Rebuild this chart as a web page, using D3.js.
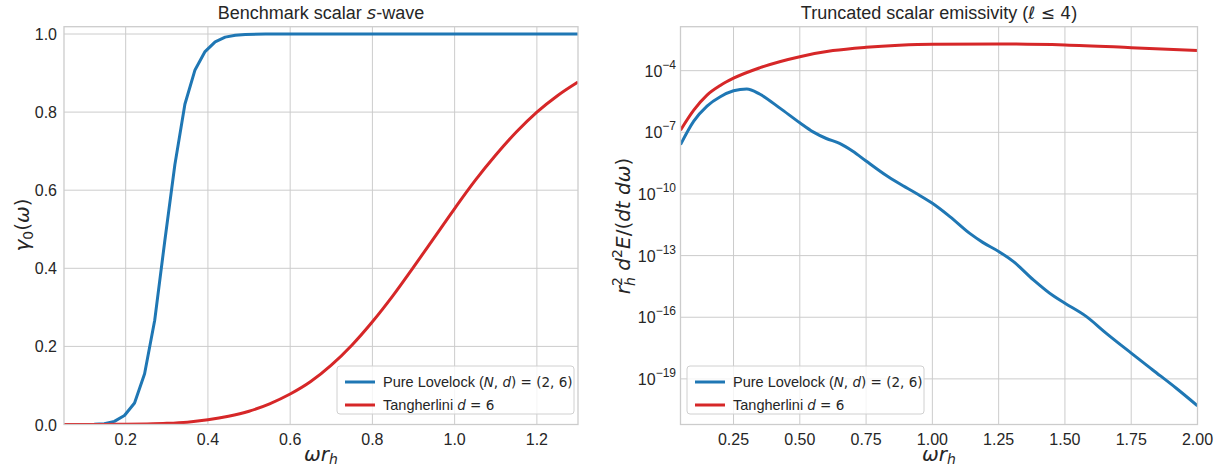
<!DOCTYPE html>
<html>
<head>
<meta charset="utf-8">
<script src="https://cdn.jsdelivr.net/npm/d3@7"></script>
<style>
  body { margin: 0; background: #fff; }
  svg { display: block; }
  text { fill: #262626; font-family: "Liberation Sans", Arial, sans-serif; }
</style>
</head>
<body>
<div id="chart_area"></div>
<script>
// left panel: greybody factor of the s-wave
const leftBlueX = [0.05, 0.0745, 0.099, 0.1235, 0.148, 0.1725, 0.197, 0.2216, 0.246, 0.2706, 0.2951,
  0.3196, 0.344, 0.3686, 0.393, 0.4176, 0.442, 0.4667, 0.491, 0.54, 0.6, 0.8, 1.0, 1.2, 1.3];
const leftBlueY = [0, 0, 0.0002, 0.0007, 0.002, 0.008, 0.023, 0.055, 0.13, 0.267, 0.47,
  0.665, 0.82, 0.908, 0.955, 0.98, 0.992, 0.997, 0.999, 1.0, 1.0, 1.0, 1.0, 1.0, 1.0];
const leftRedX = [0.05, 0.1, 0.15, 0.2, 0.25, 0.3, 0.35, 0.4, 0.45, 0.5, 0.55, 0.6, 0.65, 0.7,
  0.75, 0.8, 0.85, 0.9, 0.95, 1.0, 1.05, 1.1, 1.15, 1.2, 1.25, 1.3];
const leftRedY = [0, 0.0001, 0.0003, 0.0007, 0.0015, 0.003, 0.006, 0.012, 0.021, 0.034, 0.053, 0.078,
  0.11, 0.152, 0.203, 0.263, 0.33, 0.403, 0.478, 0.553, 0.625, 0.69, 0.749, 0.8, 0.842, 0.877];
const leftXTicks = [0.2, 0.4, 0.6, 0.8, 1.0, 1.2];
const leftYTicks = [0.0, 0.2, 0.4, 0.6, 0.8, 1.0];

// right panel: emissivity (log scale)
const rightBlueX = [0.05, 0.1, 0.15, 0.2, 0.25, 0.3, 0.35, 0.425, 0.5, 0.55, 0.6, 0.65, 0.7, 0.75,
  0.825, 0.875, 0.94, 1.0, 1.066, 1.141, 1.19, 1.25, 1.306, 1.381, 1.456, 1.5, 1.58, 1.655, 1.75,
  1.83, 1.92, 2.0];
const rightBlueY = [2.5e-8, 3.5e-7, 1.9e-6, 5.4e-6, 1.05e-5, 1.3e-5, 7.1e-6, 1.5e-6, 2.9e-7, 1.05e-7,
  5.0e-8, 2.9e-8, 1.2e-8, 4.0e-9, 8.1e-10, 3.2e-10, 1.05e-10, 3.5e-11, 7.9e-12, 1.2e-12, 4.4e-13,
  1.6e-13, 5.1e-14, 6.6e-15, 1.1e-15, 4.8e-16, 1.1e-16, 1.7e-17, 1.8e-18, 2.8e-19, 3.5e-20, 4.9e-21];
const rightRedX = [0.05, 0.1, 0.15, 0.2, 0.25, 0.35, 0.5, 0.625, 0.75, 0.875, 1.0, 1.25, 1.5, 1.75, 2.0];
const rightRedY = [1.26e-7, 1.2e-6, 6.5e-6, 1.9e-5, 4.3e-5, 1.4e-4, 4.8e-4, 9.5e-4, 1.38e-3, 1.74e-3,
  1.95e-3, 2.0e-3, 1.78e-3, 1.32e-3, 9.5e-4];
const rightXTicks = [0.25, 0.5, 0.75, 1.0, 1.25, 1.5, 1.75, 2.0];
const rightYExps = [-19, -16, -13, -10, -7, -4];

const blue = '#1f77b4';
const red = '#d62728';
const gridColor = '#cccccc';

const svg = d3.select('#chart_area').append('svg')
  .attr('width', 1222).attr('height', 469);

const plotTop = 26.7, plotBottom = 424.5;

// writes a run of math/plain pieces into a text element
function mathText(sel, parts) {
  parts.forEach(p => {
    const t = sel.append('tspan').text(p.t);
    if (p.it) t.attr('font-style', 'italic');
    if (p.math) t.attr('font-family', 'DejaVu Sans');
    if (p.size) t.attr('font-size', p.size);
    if (p.dx) t.attr('dx', p.dx);
    if (p.dy) t.attr('dy', p.dy);
  });
}

function panel(opts) {
  const g = svg.append('g');
  const x = d3.scaleLinear().domain(opts.xDomain).range([opts.left, opts.right]);
  const y = opts.yScale.range([plotBottom, plotTop]);

  // grid
  g.selectAll('line.vg').data(opts.xTicks).enter().append('line')
    .attr('x1', d => x(d)).attr('x2', d => x(d))
    .attr('y1', plotTop).attr('y2', plotBottom)
    .attr('stroke', gridColor).attr('stroke-width', 1);
  g.selectAll('line.hg').data(opts.yTicks).enter().append('line')
    .attr('x1', opts.left).attr('x2', opts.right)
    .attr('y1', d => y(d)).attr('y2', d => y(d))
    .attr('stroke', gridColor).attr('stroke-width', 1);

  // x tick labels
  g.selectAll('text.xt').data(opts.xTicks).enter().append('text')
    .attr('x', d => x(d)).attr('y', 445)
    .attr('text-anchor', 'middle').attr('font-size', 16)
    .text(opts.xFmt);

  // curves
  const clip = 'clip' + opts.id;
  svg.append('clipPath').attr('id', clip).append('rect')
    .attr('x', opts.left).attr('y', plotTop)
    .attr('width', opts.right - opts.left).attr('height', plotBottom - plotTop);
  opts.series.forEach(s => {
    const pts = s.x.map((v, i) => [v, s.y[i]]);
    g.append('path')
      .attr('clip-path', 'url(#' + clip + ')')
      .attr('d', d3.line().x(d => x(d[0])).y(d => y(d[1])).curve(s.curve)(pts))
      .attr('fill', 'none').attr('stroke', s.color).attr('stroke-width', 3)
      .attr('stroke-linejoin', 'round');
  });

  // frame
  g.append('rect')
    .attr('x', opts.left).attr('y', plotTop)
    .attr('width', opts.right - opts.left).attr('height', plotBottom - plotTop)
    .attr('fill', 'none').attr('stroke', gridColor).attr('stroke-width', 1.3);

  // title
  const title = g.append('text')
    .attr('x', (opts.left + opts.right) / 2).attr('y', 19)
    .attr('text-anchor', 'middle').attr('font-size', 18);
  mathText(title, opts.title);

  // x label
  const xl = g.append('text')
    .attr('x', (opts.left + opts.right) / 2).attr('y', 461)
    .attr('text-anchor', 'middle').attr('font-size', 20);
  mathText(xl, [
    { t: 'ωr', it: true, math: true },
    { t: 'h', it: true, math: true, size: 14, dy: 3 }
  ]);

  // legend
  const lg = g.append('g').attr('transform', 'translate(' + opts.legendX + ',366)');
  lg.append('rect').attr('width', 237).attr('height', 48).attr('rx', 3)
    .attr('fill', 'rgba(255,255,255,0.8)').attr('stroke', '#d0d0d0');
  const items = [
    { color: blue, parts: [
      { t: 'Pure Lovelock (' }, { t: 'N', it: true, math: true, size: 13.5 }, { t: ', ', math: true, size: 13.5 },
      { t: 'd', it: true, math: true, size: 13.5 }, { t: ') = (2, 6)', math: true, size: 13.5 }
    ] },
    { color: red, parts: [
      { t: 'Tangherlini ' }, { t: 'd', it: true, math: true, size: 13.5 }, { t: ' = 6', math: true, size: 13.5 }
    ] }
  ];
  items.forEach((it, i) => {
    const yy = 16 + i * 23;
    lg.append('line').attr('x1', 8).attr('x2', 38).attr('y1', yy).attr('y2', yy)
      .attr('stroke', it.color).attr('stroke-width', 3);
    const t = lg.append('text').attr('x', 46).attr('y', yy + 5).attr('font-size', 14.5);
    mathText(t, it.parts);
  });
  return { g, x, y };
}

// left panel
const L = panel({
  id: 'L', left: 64, right: 578,
  xDomain: [0.05, 1.3],
  yScale: d3.scaleLinear().domain([0, 1.0187]),
  xTicks: leftXTicks, yTicks: leftYTicks,
  xFmt: d3.format('.1f'),
  title: [{ t: 'Benchmark scalar ' }, { t: 's', it: true, math: true }, { t: '-wave' }],
  legendX: 337,
  series: [
    { x: leftBlueX, y: leftBlueY, color: blue, curve: d3.curveLinear },
    { x: leftRedX, y: leftRedY, color: red, curve: d3.curveMonotoneX }
  ]
});
L.g.selectAll('text.yt').data(leftYTicks).enter().append('text')
  .attr('x', 57).attr('y', d => L.y(d) + 6)
  .attr('text-anchor', 'end').attr('font-size', 16)
  .text(d3.format('.1f'));
const ylL = L.g.append('text')
  .attr('transform', 'translate(29,225) rotate(-90)')
  .attr('text-anchor', 'middle').attr('font-size', 20);
mathText(ylL, [
  { t: 'γ', it: true, math: true },
  { t: '0', math: true, size: 14, dy: 4 },
  { t: '(', math: true, dy: -4 }, { t: 'ω', it: true, math: true }, { t: ')', math: true }
]);

// right panel
const R = panel({
  id: 'R', left: 680.5, right: 1197.5,
  xDomain: [0.05, 2.0],
  yScale: d3.scaleLog().domain([Math.pow(10, -21.22), Math.pow(10, -1.86)]),
  xTicks: rightXTicks, yTicks: rightYExps.map(e => Math.pow(10, e)),
  xFmt: d3.format('.2f'),
  title: [{ t: 'Truncated scalar emissivity (' }, { t: 'ℓ', math: true, it: true, size: 17 },
    { t: ' ≤ 4', math: true, size: 17 }, { t: ')' }],
  legendX: 687,
  series: [
    { x: rightBlueX, y: rightBlueY, color: blue, curve: d3.curveMonotoneX },
    { x: rightRedX, y: rightRedY, color: red, curve: d3.curveMonotoneX }
  ]
});
rightYExps.forEach(e => {
  const t = R.g.append('text')
    .attr('x', 676).attr('y', R.y(Math.pow(10, e)) + 6)
    .attr('text-anchor', 'end').attr('font-size', 16);
  t.append('tspan').text('10');
  t.append('tspan').text('−' + Math.abs(e)).attr('font-size', 12).attr('dy', -8);
});
const ylR = R.g.append('text')
  .attr('transform', 'translate(630,226) rotate(-90)')
  .attr('text-anchor', 'middle').attr('font-size', 20);
mathText(ylR, [
  { t: 'r', it: true, math: true },
  { t: 'h', it: true, math: true, size: 14, dy: 5 },
  { t: '2', math: true, size: 14, dx: -8.7, dy: -13 },
  { t: ' d', it: true, math: true, dy: 8 },
  { t: '2', math: true, size: 14, dy: -8 },
  { t: 'E', it: true, math: true, dy: 8 },
  { t: '/(', math: true },
  { t: 'dt dω', it: true, math: true },
  { t: ')', math: true }
]);
</script>
</body>
</html>
